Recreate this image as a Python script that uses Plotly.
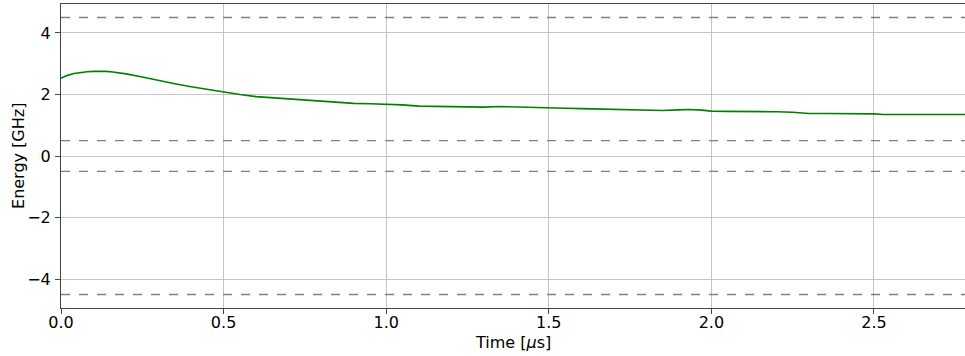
import plotly.graph_objects as go

# Energy trajectory over time
time_us = [0.00, 0.02, 0.04, 0.06, 0.08, 0.10, 0.12, 0.14, 0.16, 0.18, 0.20,
           0.25, 0.30, 0.35, 0.40, 0.45, 0.50, 0.55, 0.60, 0.65, 0.70, 0.75,
           0.80, 0.85, 0.90, 0.95, 1.00, 1.05, 1.10, 1.15, 1.20, 1.25, 1.30,
           1.35, 1.40, 1.45, 1.50, 1.55, 1.60, 1.65, 1.70, 1.75, 1.80, 1.85,
           1.90, 1.93, 1.97, 2.00, 2.05, 2.10, 2.15, 2.20, 2.25, 2.30, 2.35,
           2.40, 2.45, 2.50, 2.53, 2.55, 2.60, 2.65, 2.70, 2.75, 2.78]
energy_ghz = [2.53, 2.62, 2.68, 2.72, 2.74, 2.75, 2.76, 2.75, 2.73, 2.70, 2.67,
              2.57, 2.45, 2.35, 2.25, 2.16, 2.07, 2.00, 1.93, 1.89, 1.85, 1.81,
              1.77, 1.73, 1.71, 1.70, 1.69, 1.66, 1.62, 1.61, 1.60, 1.60, 1.59,
              1.61, 1.59, 1.58, 1.55, 1.55, 1.54, 1.53, 1.53, 1.52, 1.49, 1.48,
              1.50, 1.51, 1.49, 1.46, 1.45, 1.45, 1.44, 1.44, 1.42, 1.38, 1.38,
              1.38, 1.37, 1.37, 1.35, 1.35, 1.35, 1.36, 1.35, 1.36, 1.35]

# Reference energy levels (dashed)
levels_ghz = [4.5, 0.5, -0.5, -4.5]

x_ticks = [0.0, 0.5, 1.0, 1.5, 2.0, 2.5]
x_tick_labels = ["0.0", "0.5", "1.0", "1.5", "2.0", "2.5"]
y_ticks = [-4, -2, 0, 2, 4]
y_tick_labels = ["\u22124", "\u22122", "0", "2", "4"]

x_title = "Time [<i>\u03bc</i>s]"
y_title = "Energy [GHz]"

FONT = "DejaVu Sans, Liberation Sans, sans-serif"

fig = go.Figure()

for lv in levels_ghz:
    fig.add_trace(go.Scatter(
        x=[0, 2.78], y=[lv, lv], mode="lines",
        line=dict(color="#808080", width=1.4, dash="dash"),
        showlegend=False, hoverinfo="skip",
    ))

fig.add_trace(go.Scatter(
    x=time_us, y=energy_ghz, mode="lines",
    line=dict(color="green", width=1.6),
    showlegend=False,
))

# Axis titles placed as paper-anchored annotations
fig.add_annotation(text=x_title, xref="paper", yref="paper", x=0.5, y=-0.113,
                   xanchor="center", yanchor="middle", showarrow=False,
                   font=dict(size=16))
fig.add_annotation(text=y_title, xref="paper", yref="paper", x=-0.0476, y=0.5,
                   xanchor="center", yanchor="middle", showarrow=False,
                   textangle=-90, font=dict(size=16))

fig.update_layout(
    width=965, height=356,
    margin=dict(l=61, r=0, t=4, b=48),
    paper_bgcolor="white", plot_bgcolor="white",
    font=dict(family=FONT, size=16, color="black"),
    xaxis=dict(
        range=[0, 2.78],
        tickmode="array", tickvals=x_ticks, ticktext=x_tick_labels,
        showgrid=True, gridcolor="#c4c4c4", gridwidth=1,
        showline=True, linecolor="#444444", linewidth=1, mirror=True,
        ticks="outside", ticklen=5, tickcolor="#444444",
        ticklabelstandoff=-5,
        zeroline=False,
    ),
    yaxis=dict(
        range=[-4.94, 4.94],
        tickmode="array", tickvals=y_ticks, ticktext=y_tick_labels,
        showgrid=True, gridcolor="#c4c4c4", gridwidth=1,
        showline=True, linecolor="#444444", linewidth=1,
        ticks="outside", ticklen=5, tickcolor="#444444",
        ticklabelstandoff=1,
        zeroline=False,
    ),
)

fig.write_html("out.html")
